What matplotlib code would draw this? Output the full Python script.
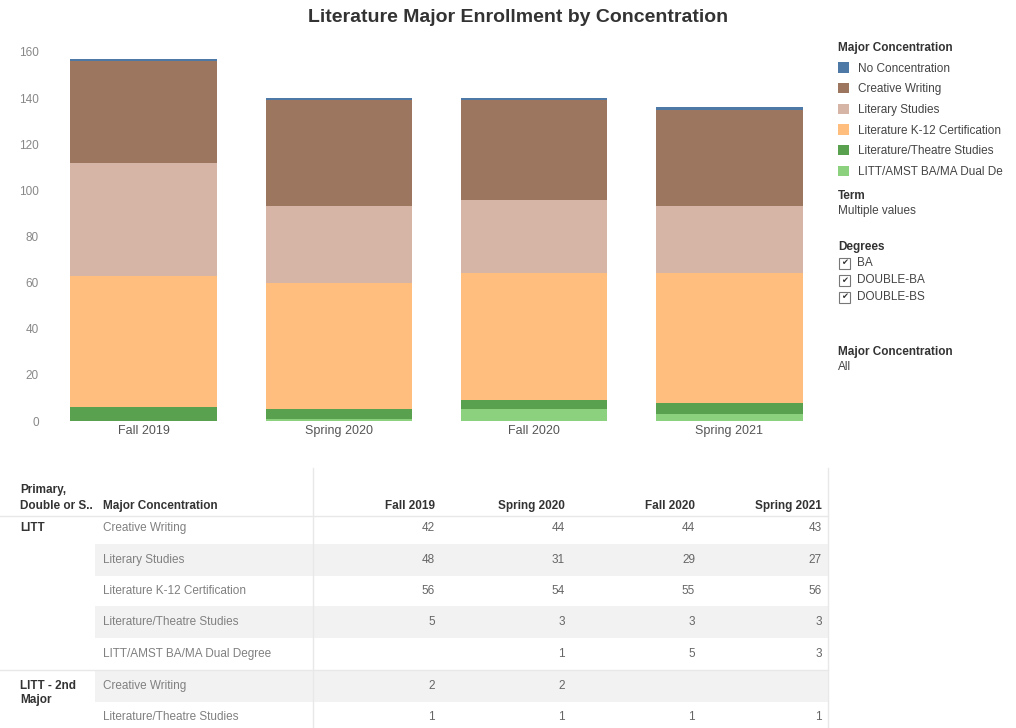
import matplotlib.pyplot as plt
import numpy as np
from matplotlib.patches import Rectangle

plt.rcParams['font.family'] = ['Liberation Sans', 'DejaVu Sans']

# chart data
terms = ['Fall 2019', 'Spring 2020', 'Fall 2020', 'Spring 2021']
concentrations = ['LITT/AMST BA/MA Dual De', 'Literature/Theatre Studies',
                  'Literature K-12 Certification', 'Literary Studies',
                  'Creative Writing', 'No Concentration']
dual_degree = [0, 1, 5, 3]
lit_theatre = [6, 4, 4, 5]
k12_cert = [57, 55, 55, 56]
literary = [49, 33, 32, 29]
creative = [44, 46, 43, 42]
no_conc = [1, 1, 1, 1]
colors = ['#8cd17d', '#59a14f', '#ffbe7d', '#d7b5a6', '#9d7660', '#4e79a7']

# table data
groups = ['LITT', 'LITT - 2nd\nMajor']
table_rows = [
    (0, 'Creative Writing', ['42', '44', '44', '43']),
    (0, 'Literary Studies', ['48', '31', '29', '27']),
    (0, 'Literature K-12 Certification', ['56', '54', '55', '56']),
    (0, 'Literature/Theatre Studies', ['5', '3', '3', '3']),
    (0, 'LITT/AMST BA/MA Dual Degree', ['', '1', '5', '3']),
    (1, 'Creative Writing', ['2', '2', '', '']),
    (1, 'Literature/Theatre Studies', ['1', '1', '1', '1']),
]
degrees = ['BA', 'DOUBLE-BA', 'DOUBLE-BS']

W, H = 1016, 728
fig = plt.figure(figsize=(W / 100, H / 100), dpi=100)

# ---- stacked bar chart ----
ax = fig.add_axes([46 / W, 1 - 421 / H, (827 - 46) / W, (421 - 45) / H])
series = [dual_degree, lit_theatre, k12_cert, literary, creative, no_conc]
x = np.arange(len(terms))
bottom = np.zeros(len(terms))
handles = []
for vals, name, c in zip(series, concentrations, colors):
    b = ax.bar(x, vals, bottom=bottom, width=0.75, color=c, label=name, linewidth=0)
    handles.append(b)
    bottom += np.array(vals)
ax.set_xlim(-0.5, 3.5)
ax.set_ylim(0, 163)
ax.set_yticks(np.arange(0, 161, 20))
ax.set_xticks(x)
ax.set_xticklabels(terms)
ax.tick_params(length=0, labelsize=8.5, colors='#888888')
ax.tick_params(axis='x', labelsize=9, colors='#555555', pad=3)
ax.tick_params(axis='y', pad=5)
for s in ax.spines.values():
    s.set_visible(False)

fig.text(518 / W, 1 - 18 / H, 'Literature Major Enrollment by Concentration',
         ha='center', va='center', fontsize=14, fontweight='bold', color='#333333')

leg = fig.legend(handles[::-1], concentrations[::-1], loc='upper left',
                 bbox_to_anchor=(838 / W, 1 - 42 / H), frameon=False,
                 title='Major Concentration', alignment='left',
                 title_fontproperties={'weight': 'bold', 'size': 8.5},
                 fontsize=8.5, handlelength=0.95, handleheight=0.95,
                 handletextpad=0.75, labelspacing=0.72, borderpad=0, borderaxespad=0)
for t in leg.get_texts():
    t.set_color('#444444')
leg.get_title().set_color('#333333')

# ---- overlay in pixel coordinates for side panel and table ----
ov = fig.add_axes([0, 0, 1, 1])
ov.set_xlim(0, W)
ov.set_ylim(H, 0)
ov.axis('off')
ov.patch.set_alpha(0)

side = dict(fontsize=8.5, va='center', ha='left')
ov.text(838, 196, 'Term', fontweight='bold', color='#333333', **side)
ov.text(838, 211, 'Multiple values', color='#444444', **side)
ov.text(838, 247, 'Degrees', fontweight='bold', color='#333333', **side)
for i, d in enumerate(degrees):
    yy = 263 + i * 17
    ov.add_patch(Rectangle((839, yy - 5.5), 11, 11, fill=False, ec='#777777', lw=0.8))
    ov.text(844.5, yy, '\u2714', fontsize=6, ha='center', va='center',
            color='#333333', family='DejaVu Sans')
    ov.text(857, yy, d, color='#444444', **side)
ov.text(838, 352, 'Major Concentration', fontweight='bold', color='#333333', **side)
ov.text(838, 367, 'All', color='#444444', **side)

# table
col_right = [435, 565, 695, 822]
row_y = [528, 560, 591, 622, 654, 686, 717]
row_h = 31.5
for i, (g, name, vals) in enumerate(table_rows):
    y = row_y[i]
    if i % 2 == 1:
        ov.add_patch(Rectangle((95, y - row_h / 2), 828 - 95, row_h,
                               color='#f2f2f2', lw=0, zorder=0))
    ov.text(103, y, name, fontsize=8.5, color='#808080', va='center', ha='left')
    for cx, v in zip(col_right, vals):
        ov.text(cx, y, v, fontsize=8.5, color='#666666', va='center', ha='right')

ov.plot([0, 828], [516, 516], color='#e8e8e8', lw=1)
ov.plot([0, 828], [670, 670], color='#e8e8e8', lw=1)
ov.plot([313, 313], [468, H], color='#e8e8e8', lw=1)
ov.plot([828, 828], [468, H], color='#e8e8e8', lw=1)

hdr = dict(fontsize=8.5, fontweight='bold', color='#333333', va='center')
ov.text(20, 490, 'Primary,', ha='left', **hdr)
ov.text(20, 506, 'Double or S..', ha='left', **hdr)
ov.text(103, 506, 'Major Concentration', ha='left', **hdr)
for cx, t in zip(col_right, terms):
    ov.text(cx, 506, t, ha='right', **hdr)
ov.text(20, 528, groups[0], ha='left', **hdr)
ov.text(20, 693, groups[1], ha='left', linespacing=1.2, **hdr)

fig.savefig('out.png', dpi=100, facecolor='white')
